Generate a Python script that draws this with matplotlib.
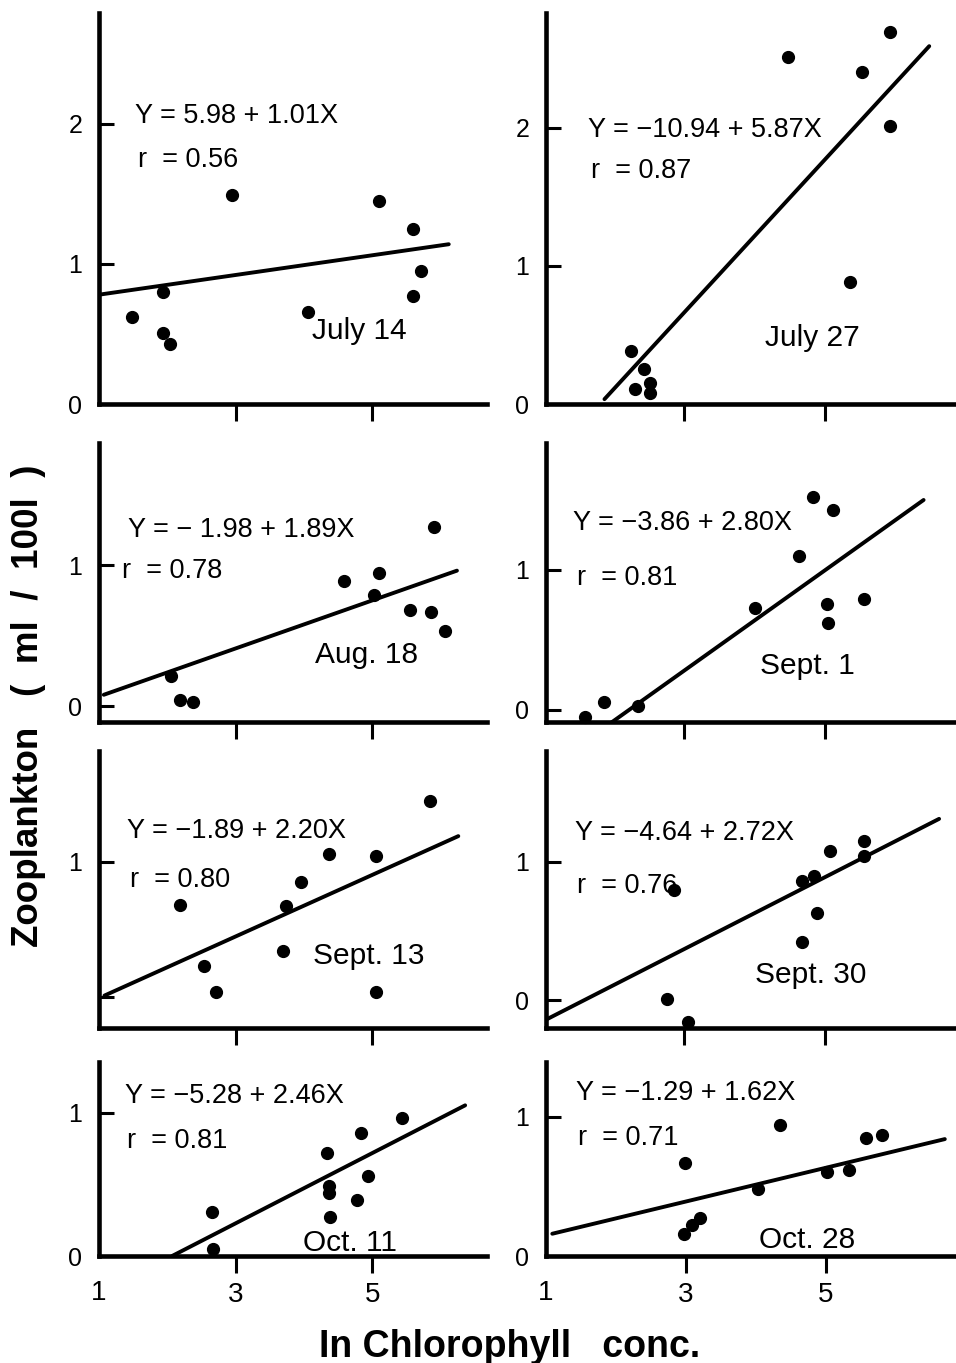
import matplotlib
matplotlib.use('Agg')
import matplotlib.pyplot as plt

plt.rcParams['font.family'] = ['Liberation Sans', 'DejaVu Sans']

# ---------------- data ----------------
dates = ["July 14", "July 27", "Aug. 18", "Sept. 1",
         "Sept. 13", "Sept. 30", "Oct. 11", "Oct. 28"]
equations = ["Y = 5.98 + 1.01X", "Y = \u221210.94 + 5.87X",
             "Y = \u2212 1.98 + 1.89X", "Y = \u22123.86 + 2.80X",
             "Y = \u22121.89 + 2.20X", "Y = \u22124.64 + 2.72X",
             "Y = \u22125.28 + 2.46X", "Y = \u22121.29 + 1.62X"]
r_values = ["r = 0.56", "r = 0.87", "r = 0.78", "r = 0.81",
            "r = 0.80", "r = 0.76", "r = 0.81", "r = 0.71"]

x_jul14 = [1.49, 1.93, 1.93, 2.04, 2.95, 4.06, 5.10, 5.59, 5.59, 5.72]
y_jul14 = [0.62, 0.80, 0.51, 0.43, 1.49, 0.66, 1.45, 1.25, 0.77, 0.95]
x_jul27 = [2.24, 2.43, 2.30, 2.52, 2.52, 4.47, 5.52, 5.92, 5.92, 5.36]
y_jul27 = [0.38, 0.25, 0.11, 0.15, 0.08, 2.51, 2.40, 2.69, 2.01, 0.88]
x_aug18 = [2.06, 2.19, 2.37, 4.59, 5.02, 5.10, 5.55, 5.86, 5.90, 6.06]
y_aug18 = [0.21, 0.04, 0.03, 0.89, 0.79, 0.94, 0.68, 0.67, 1.27, 0.53]
x_sep01 = [1.60, 1.87, 2.34, 4.00, 4.63, 4.83, 5.11, 5.03, 5.05, 5.56]
y_sep01 = [-0.05, 0.06, 0.03, 0.73, 1.10, 1.52, 1.43, 0.76, 0.62, 0.79]
x_sep13 = [2.18, 2.54, 2.72, 3.69, 3.74, 3.96, 4.36, 5.06, 5.05, 5.84]
y_sep13 = [0.68, 0.23, 0.04, 0.34, 0.67, 0.85, 1.06, 1.04, 0.04, 1.45]
x_sep30 = [2.76, 2.85, 3.06, 4.68, 4.68, 4.85, 4.88, 5.07, 5.55, 5.55]
y_sep30 = [0.01, 0.80, -0.16, 0.42, 0.86, 0.90, 0.63, 1.08, 1.15, 1.04]
x_oct11 = [2.66, 2.67, 4.34, 4.36, 4.36, 4.38, 4.77, 4.84, 4.94, 5.43]
y_oct11 = [0.31, 0.05, 0.72, 0.49, 0.44, 0.27, 0.39, 0.86, 0.56, 0.96]
x_oct28 = [2.97, 2.99, 3.08, 3.20, 4.03, 4.34, 5.02, 5.33, 5.58, 5.80]
y_oct28 = [0.16, 0.67, 0.22, 0.27, 0.48, 0.94, 0.60, 0.62, 0.85, 0.87]

# regression line end points as drawn in the figure
fit_x = [(1.00, 6.12), (1.87, 6.48), (1.07, 6.24), (1.92, 6.40),
         (1.08, 6.26), (1.04, 6.62), (2.07, 6.36), (1.09, 6.70)]
fit_y = [(0.78, 1.14), (0.035, 2.59), (0.08, 0.96), (-0.107, 1.50),
         (0.01, 1.19), (-0.14, 1.31), (0.00, 1.05), (0.16, 0.84)]

y_limits = [(0.0, 2.79), (0.0, 2.83), (-0.113, 1.865), (-0.086, 1.907),
            (-0.23, 1.82), (-0.20, 1.80), (0.0, 1.352), (0.0, 1.394)]
y_ticks = [[0, 1, 2], [0, 1, 2], [0, 1], [0, 1], [0, 1], [0, 1], [0, 1], [0, 1]]
y_ticklabels = [["0", "1", "2"], ["0", "1", "2"], ["0", "1"], ["0", "1"],
                ["", "1"], ["0", "1"], ["0", "1"], ["0", "1"]]
x_limits = [(1.0, 6.68), (1.04, 6.86)]

xs = [x_jul14, x_jul27, x_aug18, x_sep01, x_sep13, x_sep30, x_oct11, x_oct28]
ys = [y_jul14, y_jul27, y_aug18, y_sep01, y_sep13, y_sep30, y_oct11, y_oct28]

# ---------------- layout ----------------
W, H = 956, 1363
fig = plt.figure(figsize=(W / 100, H / 100), dpi=100)

col_px = [(99, 487), (546, 956)]
row_px = [(13, 404), (443, 722), (751, 1028), (1062, 1256)]

# text anchor pixel positions (left x, center y)
eq_px = [(135, 113), (588, 127), (128, 527), (573, 520),
         (127, 828), (575, 830), (125, 1093), (576, 1090)]
r_px = [(138, 157), (591, 168), (122, 568), (577, 575),
        (130, 877), (577, 883), (127, 1138), (578, 1135)]
date_px = [(312, 328), (765, 335), (315, 652), (760, 663),
           (313, 953), (755, 972), (303, 1240), (759, 1237)]

for i in range(8):
    row, col = divmod(i, 2)
    l, r = col_px[col]
    t, b = row_px[row]
    ax = fig.add_axes([l / W, 1 - b / H, (r - l) / W, (b - t) / H])
    ax.set_facecolor('none')
    for s in ['top', 'right']:
        ax.spines[s].set_visible(False)
    for s in ['left', 'bottom']:
        ax.spines[s].set_linewidth(3.3)
        ax.spines[s].set_capstyle('projecting')

    ax.plot(fit_x[i], fit_y[i], color='black', lw=2.8, solid_capstyle='round')
    ax.plot(xs[i], ys[i], 'o', color='black', ms=8.5, clip_on=False)

    ax.set_xlim(*x_limits[col])
    ax.set_ylim(*y_limits[i])

    ax.set_yticks(y_ticks[i])
    ax.set_yticklabels(y_ticklabels[i])
    ax.tick_params(axis='y', direction='in', length=11, width=2.2, pad=12,
                   labelsize=18)
    ax.set_xticks([3, 5])
    ax.tick_params(axis='x', which='major', direction='out', length=12,
                   width=2.2, pad=7, labelsize=20)
    if row == 3:
        ax.set_xticklabels(["3", "5"])
        ax.set_xticks([1], minor=True)
        ax.set_xticklabels(["1"], minor=True)
        ax.tick_params(axis='x', which='minor', length=0, pad=17, labelsize=20)
    else:
        ax.set_xticklabels([])

    ex, ey = eq_px[i]
    fig.text(ex / W, 1 - ey / H, equations[i], fontsize=19.5,
             ha='left', va='center_baseline')
    rx, ry = r_px[i]
    fig.text(rx / W, 1 - ry / H, r_values[i].replace(" = ", "  = "),
             fontsize=19.5, ha='left', va='center_baseline')
    dx, dy = date_px[i]
    fig.text(dx / W, 1 - dy / H, dates[i], fontsize=21.5,
             ha='left', va='center_baseline')

fig.text(29 / W, 1 - 706 / H, "Zooplankton   (  ml  /  100l  )",
         rotation=90, fontsize=26.5, fontweight='bold', ha='center', va='center')
fig.text(510 / W, 1 - 1357 / H, "In Chlorophyll   conc.",
         fontsize=27, fontweight='bold', ha='center', va='baseline')

fig.savefig('out.png', dpi=100, facecolor='white')
